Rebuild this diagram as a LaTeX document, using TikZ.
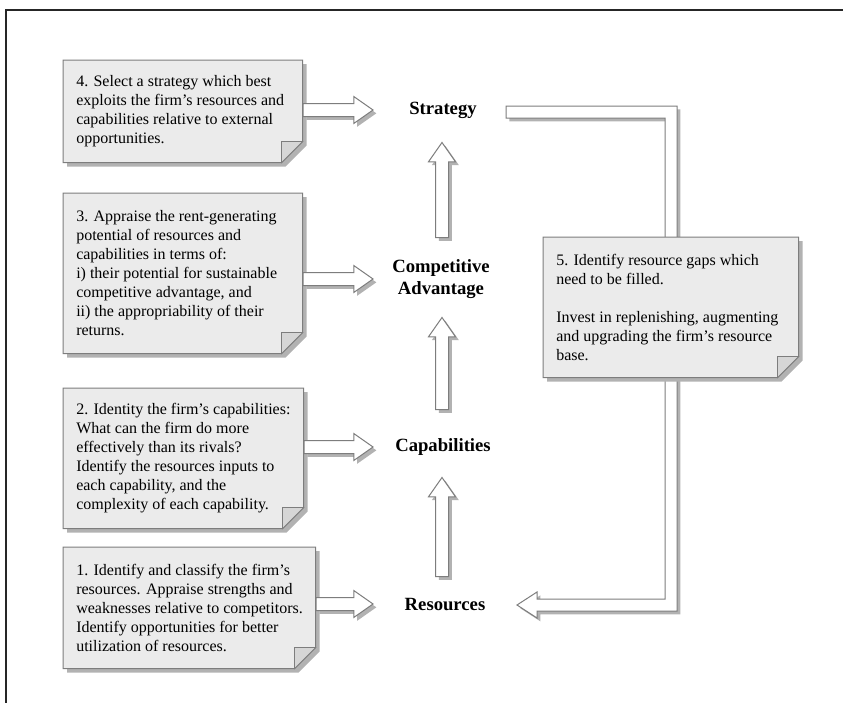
\documentclass[tikz,border=0pt]{standalone}
\usepackage{fontspec}
\setmainfont{Liberation Serif}
\usetikzlibrary{shapes.arrows,shadows,calc}
\definecolor{notegray}{RGB}{235,235,235}
\definecolor{flapgray}{RGB}{214,214,214}
\definecolor{rimgray}{RGB}{125,125,125}
\definecolor{shadegray}{RGB}{178,178,178}
\pgfdeclarelayer{back}
\pgfsetlayers{back,main}
% card with a turned-down corner, drawn behind the text
\newcommand{\notecard}[1]{%
  \draw[cardfill] (#1.north west) -- (#1.north east)
    -- ([yshift=15.75pt]#1.south east) -- ([xshift=-15.75pt]#1.south east)
    -- (#1.south west) -- cycle;
  \draw[flapfill] ([xshift=-15.75pt]#1.south east)
    -- ([xshift=-15.75pt,yshift=15.75pt]#1.south east)
    -- ([yshift=15.75pt]#1.south east) -- cycle;}

\begin{document}
\begin{tikzpicture}[x=0.75pt,y=-0.75pt,
  card/.style={inner sep=0pt,anchor=north west},
  notetext/.style={align=left,inner sep=0pt,anchor=west,
    font=\fontsize{12}{14.3}\selectfont},
  cardfill/.style={fill=notegray,draw=rimgray,line width=0.75pt,
    drop shadow={shadow xshift=3pt,shadow yshift=-3pt,fill=shadegray,opacity=1}},
  flapfill/.style={fill=flapgray,draw=rimgray,line width=0.6pt},
  stage/.style={font=\fontsize{14}{16}\selectfont\bfseries,align=center},
  fatarrow/.style={single arrow,draw=rimgray,fill=white,line width=0.75pt,
    inner xsep=0pt,inner ysep=4.5pt,single arrow head extend=5.25pt,
    single arrow tip angle=70,
    drop shadow={shadow xshift=2.5pt,shadow yshift=-2.5pt,fill=shadegray,opacity=1}},
  uparrow/.style={fatarrow,shape border rotate=90,inner xsep=4.5pt,inner ysep=0pt},
  loopband/.style={draw=rimgray,fill=white,line width=0.75pt,
    drop shadow={shadow xshift=2.5pt,shadow yshift=-2.5pt,fill=shadegray,opacity=1}}]
  \useasboundingbox (0,0) rectangle (843,703);

  % stages
  \node[stage] (strat) at (443,110) {Strategy};
  \node[stage] (comp) at (441,279) {Competitive\\Advantage};
  \node[stage] (capab) at (443,447) {Capabilities};
  \node[stage] (resrc) at (445,604) {Resources};

  % the five steps
  \node[card,minimum width=179.25pt,minimum height=76.5pt] (step4) at (63,60) {};
  \node[card,minimum width=179.25pt,minimum height=120pt] (step3) at (63,193) {};
  \node[card,minimum width=180pt,minimum height=105pt] (step2) at (63,388) {};
  \node[card,minimum width=189pt,minimum height=90.75pt] (step1) at (63,547) {};
  \node[card,minimum width=191.25pt,minimum height=105pt] (step5) at (543,237) {};

  \node[notetext] (text4) at ([xshift=9.75pt]step4.west)
    {4. Select a strategy which best\\exploits the firm's resources and\\capabilities relative to external\\opportunities.};
  \node[notetext] (text3) at ([xshift=9.75pt]step3.west)
    {3. Appraise the rent-generating\\potential of resources and\\capabilities in terms of:\\i) their potential for sustainable\\competitive advantage, and\\ii) the appropriability of their\\returns.};
  \node[notetext] (text2) at ([xshift=9.75pt]step2.west)
    {2. Identity the firm's capabilities:\\What can the firm do more\\effectively than its rivals?\\Identify the resources inputs to\\each capability, and the\\complexity of each capability.};
  \node[notetext] (text1) at ([xshift=9.75pt]step1.west)
    {1. Identify and classify the firm's\\resources. Appraise strengths and\\weaknesses relative to competitors.\\Identify opportunities for better\\utilization of resources.};
  \node[notetext] (text5) at ([xshift=9.75pt]step5.west)
    {5. Identify resource gaps which\\need to be filled.\\[14.3pt]Invest in replenishing, augmenting\\and upgrading the firm's resource\\base.};

  \coordinate (loopin) at (506,112);
  \coordinate (loopout) at (517,605);

  \begin{pgfonlayer}{back}
    \notecard{step4}
    \notecard{step3}
    \notecard{step2}
    \notecard{step1}
    \draw[loopband] ($(loopin)+(0,-6)$) -- ++(171,0) |- ($(loopout)+(20,6)$)
      -- ++(0,7) -- (loopout) -- ++(20,-13) -- ++(0,7)
      -| ($(loopin)+(159,6)$) -- ++(-159,0) -- cycle;
    \notecard{step5}
  \end{pgfonlayer}

  % arrows into the stages
  \node[fatarrow,minimum height=52.5pt,anchor=tail] (to4) at (step4.east |- strat) {};
  \node[fatarrow,minimum height=52.5pt,anchor=tail] (to3) at (step3.east |- comp) {};
  \node[fatarrow,minimum height=51.75pt,anchor=tail] (to2) at (step2.east |- capab) {};
  \node[fatarrow,minimum height=42.75pt,anchor=tail] (to1) at (step1.east |- resrc) {};

  % upward arrows
  \node[uparrow,minimum height=71.25pt,anchor=tail] (up1) at (442,238) {};
  \node[uparrow,minimum height=69pt,anchor=tail] (up2) at (442,410) {};
  \node[uparrow,minimum height=74.25pt,anchor=tail] (up3) at (442,577) {};

  % frame
  \draw[black!85,line width=1.2pt] (6,703) -- (6,10) -- (843,10);
\end{tikzpicture}
\end{document}
